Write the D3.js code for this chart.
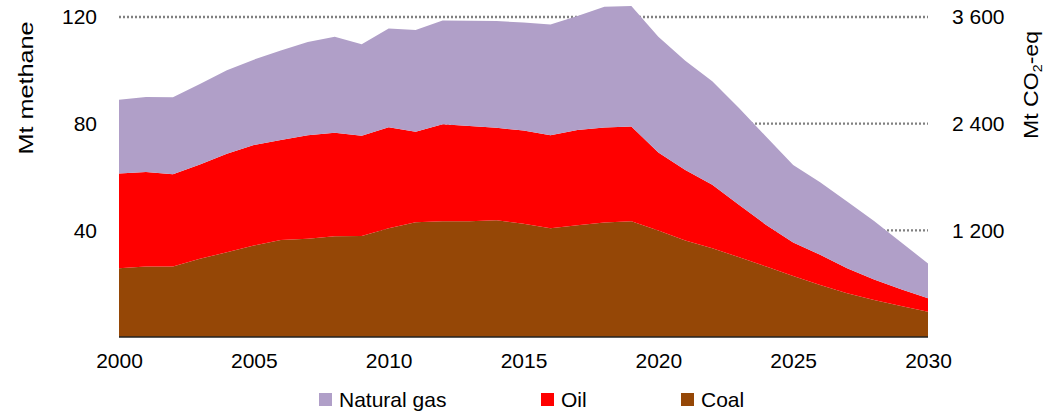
<!DOCTYPE html>
<html>
<head>
<meta charset="utf-8">
<script src="https://cdn.jsdelivr.net/npm/d3@7"></script>
<style>
  html, body { margin: 0; padding: 0; background: #fff; }
  svg { display: block; font-family: "Liberation Sans", Arial, sans-serif; }
</style>
</head>
<body>
<svg id="chart" width="1045" height="411"></svg>
<script>
// ---- Data (Mt methane) ----
const years = d3.range(2000, 2031);
const coal = [25.8, 26.4, 26.4, 29.3, 31.8, 34.3, 36.4, 36.8, 37.8, 37.9, 40.8, 43.0, 43.4, 43.4, 43.8, 42.5, 40.8, 41.9, 42.9, 43.4, 39.9, 36.2, 33.3, 29.9, 26.4, 22.9, 19.5, 16.4, 13.9, 11.6, 9.5];
const oil = [35.5, 35.5, 34.6, 35.4, 36.9, 37.7, 37.5, 38.9, 38.8, 37.6, 37.9, 34.0, 36.4, 35.7, 34.7, 34.9, 34.9, 35.7, 35.7, 35.5, 29.3, 26.4, 23.8, 19.6, 15.6, 12.5, 11.3, 9.4, 7.7, 6.3, 5.0];
const gas = [27.7, 28.1, 28.9, 30.2, 31.3, 32.0, 33.5, 34.9, 36.0, 34.3, 37.0, 38.1, 38.9, 39.5, 40.0, 40.5, 41.5, 42.8, 45.2, 45.2, 43.4, 41.0, 38.8, 36.3, 33.1, 29.1, 27.2, 25.0, 21.9, 17.6, 13.1];
const seriesKeys = ["coal", "oil", "gas"];
const seriesNames = { gas: "Natural gas", oil: "Oil", coal: "Coal" };
const legendOrder = ["gas", "oil", "coal"];
const leftTicks = [40, 80, 120];
const rightTicks = [1200, 2400, 3600];
const xTicks = [2000, 2005, 2010, 2015, 2020, 2025, 2030];
const co2Factor = 30; // Mt CO2-eq per Mt methane

const colors = { gas: "#b09fc8", oil: "#ff0000", coal: "#954706" };

const table = years.map((y, i) => ({ year: y, coal: coal[i], oil: oil[i], gas: gas[i] }));

const svg = d3.select("#chart");
const margin = { left: 119, right: 117, top: 17, bottom: 74 };
const W = 1045, H = 411;
const FS = 21;
const x = d3.scaleLinear().domain([2000, 2030]).range([margin.left, W - margin.right]);
const y = d3.scaleLinear().domain([0, 120]).range([H - margin.bottom, margin.top]);
const y2 = d3.scaleLinear().domain([0, 120 * co2Factor]).range([H - margin.bottom, margin.top]);

// gridlines
svg.append("g").selectAll("line").data(leftTicks).join("line")
  .attr("x1", x(2000)).attr("x2", x(2030))
  .attr("y1", d => y(d)).attr("y2", d => y(d))
  .attr("stroke", "#808080").attr("stroke-width", 2.4)
  .attr("stroke-dasharray", "2,2");

// stacked areas
const stack = d3.stack().keys(seriesKeys);
const stacked = stack(table);
const area = d3.area()
  .x(d => x(d.data.year))
  .y0(d => y(d[0]))
  .y1(d => y(d[1]));
svg.append("g").selectAll("path").data(stacked).join("path")
  .attr("fill", d => colors[d.key])
  .attr("d", area);

// x axis baseline
svg.append("line")
  .attr("x1", x(2000)).attr("x2", x(2030))
  .attr("y1", y(0)).attr("y2", y(0))
  .attr("stroke", "#222").attr("stroke-width", 1.3);

// left axis labels
const leftAxis = d3.axisLeft(y).tickValues(leftTicks).tickSize(0).tickPadding(22);
const gl = svg.append("g").attr("transform", `translate(${margin.left},0)`).call(leftAxis);
gl.select(".domain").remove();
gl.selectAll("text").attr("font-size", FS).attr("fill", "#000").attr("font-family", "Liberation Sans, Arial, sans-serif");

// right axis labels
const rightAxis = d3.axisRight(y2).tickValues(rightTicks).tickSize(0).tickPadding(24)
  .tickFormat(d => d3.format(",")(d).replace(/,/g, " "));
const gr = svg.append("g").attr("transform", `translate(${W - margin.right},0)`).call(rightAxis);
gr.select(".domain").remove();
gr.selectAll("text").attr("font-size", FS).attr("fill", "#000").attr("font-family", "Liberation Sans, Arial, sans-serif");

// x axis labels
const xAxis = d3.axisBottom(x).tickValues(xTicks).tickSize(0).tickPadding(16).tickFormat(d3.format("d"));
const gx = svg.append("g").attr("transform", `translate(0,${y(0)})`).call(xAxis);
gx.select(".domain").remove();
gx.selectAll("text").attr("font-size", FS).attr("fill", "#000").attr("font-family", "Liberation Sans, Arial, sans-serif");

// axis titles
svg.append("text")
  .attr("transform", "translate(33,88) rotate(-90) scale(1.2,1)")
  .attr("text-anchor", "middle")
  .attr("font-size", FS).attr("fill", "#000")
  .text("Mt methane");

const t2 = svg.append("text")
  .attr("transform", "translate(1038,85) rotate(-90) scale(1.1,1)")
  .attr("text-anchor", "middle")
  .attr("font-size", FS).attr("fill", "#000");
t2.append("tspan").text("Mt CO");
t2.append("tspan").attr("font-size", 13).attr("dy", 4).text("2");
t2.append("tspan").attr("dy", -4).text("-eq");

// legend
const legendX = { gas: 319, oil: 541, coal: 681 };
const lg = svg.append("g");
legendOrder.forEach(k => {
  lg.append("rect").attr("x", legendX[k]).attr("y", 393).attr("width", 13).attr("height", 13).attr("fill", colors[k]);
  lg.append("text").attr("x", legendX[k] + 20).attr("y", 400).attr("dy", "0.35em")
    .attr("font-size", FS).attr("fill", "#000").text(seriesNames[k]);
});
</script>
</body>
</html>
